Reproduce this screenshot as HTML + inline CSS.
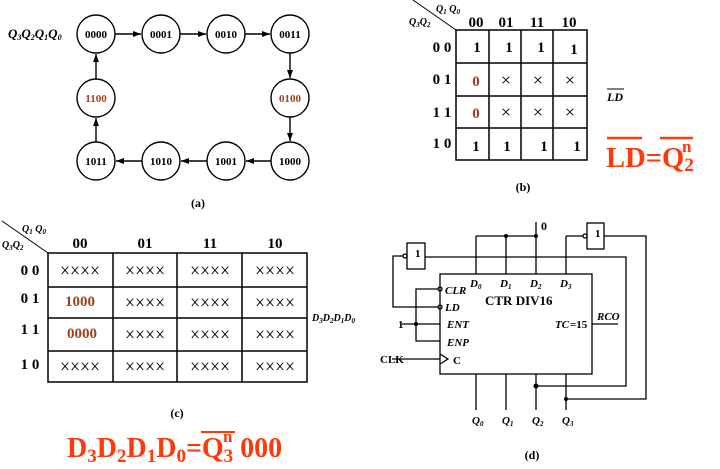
<!DOCTYPE html>
<html><head><meta charset="utf-8"><style>
html,body{margin:0;padding:0;background:#fff;}
svg{display:block;font-family:"Liberation Serif",serif;}
</style></head><body>
<svg width="720" height="469" viewBox="0 0 720 469" xmlns="http://www.w3.org/2000/svg">
<defs><marker id="ar" markerWidth="8" markerHeight="6" refX="8" refY="3" orient="auto" markerUnits="userSpaceOnUse"><path d="M0,0 L8,3 L0,6z" fill="#000"/></marker></defs>
<g stroke="#000" stroke-width="1.4" fill="#fff">
<circle cx="96" cy="34" r="19"/><circle cx="161" cy="34" r="19"/><circle cx="226" cy="34" r="19"/><circle cx="290" cy="34" r="19"/>
<circle cx="290" cy="98" r="19"/><circle cx="96" cy="98" r="19"/>
<circle cx="96" cy="161" r="19"/><circle cx="161" cy="161" r="19"/><circle cx="226" cy="161" r="19"/><circle cx="290" cy="161" r="19"/>
</g>
<g stroke="#000" stroke-width="1.4" marker-end="url(#ar)">
<line x1="115" y1="34" x2="141" y2="34"/><line x1="180" y1="34" x2="206" y2="34"/><line x1="245" y1="34" x2="270" y2="34"/>
<line x1="290" y1="53" x2="290" y2="78"/><line x1="290" y1="117" x2="290" y2="141"/>
<line x1="271" y1="161" x2="246" y2="161"/><line x1="207" y1="161" x2="181" y2="161"/><line x1="142" y1="161" x2="116" y2="161"/>
<line x1="96" y1="142" x2="96" y2="118"/><line x1="96" y1="79" x2="96" y2="54"/>
</g>
<g font-size="11" font-weight="bold" text-anchor="middle">
<text x="96" y="38">0000</text><text x="161" y="38">0001</text><text x="226" y="38">0010</text><text x="290" y="38">0011</text>
<text x="290" y="102" fill="#a0401a">0100</text><text x="96" y="102" fill="#a0401a">1100</text>
<text x="96" y="165">1011</text><text x="161" y="165">1010</text><text x="226" y="165">1001</text><text x="290" y="165">1000</text>
<text x="198" y="207" font-size="12">(a)</text>
</g>
<text x="8" y="38" font-size="13" font-weight="bold" font-style="italic">Q<tspan font-size="8" dy="2">3</tspan><tspan dy="-2">Q</tspan><tspan font-size="8" dy="2">2</tspan><tspan dy="-2">Q</tspan><tspan font-size="8" dy="2">1</tspan><tspan dy="-2">Q</tspan><tspan font-size="8" dy="2">0</tspan></text>

<!-- (b) -->
<g stroke="#000" stroke-width="1.5" fill="none">
<rect x="456" y="30" width="131" height="130"/>
<line x1="489" y1="30" x2="489" y2="160"/><line x1="521" y1="30" x2="521" y2="160"/><line x1="553" y1="30" x2="553" y2="160"/>
<line x1="456" y1="63" x2="587" y2="63"/><line x1="456" y1="96" x2="587" y2="96"/><line x1="456" y1="128" x2="587" y2="128"/>
<line x1="413" y1="0" x2="456" y2="30" stroke-width="1"/>
</g>
<g font-size="15" font-weight="bold" text-anchor="middle">
<text x="476" y="27">00</text><text x="506" y="27">01</text><text x="537" y="27">11</text><text x="569" y="27">10</text>
<text x="442" y="52">0 0</text><text x="442" y="84">0 1</text><text x="442" y="117">1 1</text><text x="442" y="148">1 0</text>
<text x="477" y="52">1</text><text x="509" y="52">1</text><text x="541" y="52">1</text><text x="574" y="54">1</text>
<text x="476" y="86" fill="#a0401a">0</text><text x="476" y="118" fill="#a0401a">0</text>
<text x="476" y="151">1</text><text x="507" y="151">1</text><text x="544" y="151">1</text><text x="577" y="151">1</text>
</g>
<g font-size="18" text-anchor="middle"><text x="506" y="86">×</text><text x="538" y="86">×</text><text x="570" y="86">×</text><text x="506" y="118">×</text><text x="538" y="118">×</text><text x="570" y="118">×</text></g>
<text x="436" y="12" font-size="10" font-weight="bold" font-style="italic">Q<tspan font-size="7" dy="2">1</tspan><tspan dy="-2"> Q</tspan><tspan font-size="7" dy="2">0</tspan></text>
<text x="409" y="25" font-size="10" font-weight="bold" font-style="italic">Q<tspan font-size="7" dy="2">3</tspan><tspan dy="-2">Q</tspan><tspan font-size="7" dy="2">2</tspan></text>
<text x="607" y="101" font-size="12" font-weight="bold" font-style="italic">LD</text><line x1="607" y1="89" x2="624" y2="89" stroke="#000" stroke-width="1"/>
<g fill="#ff3a0a" font-size="28" font-weight="bold"><text x="606" y="167" textLength="88" lengthAdjust="spacingAndGlyphs">LD=Q<tspan font-size="19" dy="4">2</tspan></text><text x="682" y="152" font-size="17">n</text></g>
<g stroke="#ff3a0a" stroke-width="2.5"><line x1="607" y1="138" x2="642" y2="138"/><line x1="660" y1="138" x2="693" y2="138"/></g>
<text x="523" y="191" font-size="12" font-weight="bold" text-anchor="middle">(b)</text>

<!-- (c) -->
<g stroke="#000" stroke-width="1.5" fill="none">
<rect x="48" y="253" width="259" height="129"/>
<line x1="113" y1="253" x2="113" y2="382"/><line x1="177" y1="253" x2="177" y2="382"/><line x1="242" y1="253" x2="242" y2="382"/>
<line x1="48" y1="287" x2="307" y2="287"/><line x1="48" y1="318" x2="307" y2="318"/><line x1="48" y1="351" x2="307" y2="351"/>
<line x1="2" y1="221" x2="48" y2="253" stroke-width="1"/>
</g>
<g font-size="15" font-weight="bold" text-anchor="middle">
<text x="80" y="248">00</text><text x="145" y="248">01</text><text x="210" y="248">11</text><text x="275" y="248">10</text>
<text x="30" y="275">0 0</text><text x="30" y="303">0 1</text><text x="30" y="334">1 1</text><text x="30" y="369">1 0</text>
<text x="80" y="306" fill="#a0401a">1000</text><text x="82" y="338" fill="#a0401a">0000</text>
</g>
<g font-size="20" text-anchor="middle">
<text x="80" y="277" textLength="40" lengthAdjust="spacingAndGlyphs">××××</text><text x="145" y="277" textLength="40" lengthAdjust="spacingAndGlyphs">××××</text><text x="210" y="277" textLength="40" lengthAdjust="spacingAndGlyphs">××××</text><text x="275" y="277" textLength="40" lengthAdjust="spacingAndGlyphs">××××</text>
<text x="145" y="309" textLength="40" lengthAdjust="spacingAndGlyphs">××××</text><text x="210" y="309" textLength="40" lengthAdjust="spacingAndGlyphs">××××</text><text x="275" y="309" textLength="40" lengthAdjust="spacingAndGlyphs">××××</text>
<text x="145" y="341" textLength="40" lengthAdjust="spacingAndGlyphs">××××</text><text x="210" y="341" textLength="40" lengthAdjust="spacingAndGlyphs">××××</text><text x="275" y="341" textLength="40" lengthAdjust="spacingAndGlyphs">××××</text>
<text x="80" y="373" textLength="40" lengthAdjust="spacingAndGlyphs">××××</text><text x="145" y="373" textLength="40" lengthAdjust="spacingAndGlyphs">××××</text><text x="210" y="373" textLength="40" lengthAdjust="spacingAndGlyphs">××××</text><text x="275" y="373" textLength="40" lengthAdjust="spacingAndGlyphs">××××</text>
</g>
<text x="22" y="232" font-size="10" font-weight="bold" font-style="italic">Q<tspan font-size="7" dy="2">1</tspan><tspan dy="-2"> Q</tspan><tspan font-size="7" dy="2">0</tspan></text>
<text x="2" y="248" font-size="10" font-weight="bold" font-style="italic">Q<tspan font-size="7" dy="2">3</tspan><tspan dy="-2">Q</tspan><tspan font-size="7" dy="2">2</tspan></text>
<text x="312" y="321" font-size="10" font-weight="bold" font-style="italic">D<tspan font-size="7" dy="2">3</tspan><tspan dy="-2">D</tspan><tspan font-size="7" dy="2">2</tspan><tspan dy="-2">D</tspan><tspan font-size="7" dy="2">1</tspan><tspan dy="-2">D</tspan><tspan font-size="7" dy="2">0</tspan></text>
<text x="177" y="417" font-size="12" font-weight="bold" text-anchor="middle">(c)</text>
<g fill="#ff3a0a" font-size="28" font-weight="bold"><text x="67" y="457">D<tspan font-size="19" dy="5">3</tspan><tspan dy="-5">D</tspan><tspan font-size="19" dy="5">2</tspan><tspan dy="-5">D</tspan><tspan font-size="19" dy="5">1</tspan><tspan dy="-5">D</tspan><tspan font-size="19" dy="5">0</tspan><tspan dy="-5">=Q</tspan><tspan font-size="19" dy="5">3</tspan><tspan dy="-5"> 000</tspan></text><text x="223" y="442" font-size="17">n</text></g>
<line x1="201" y1="432" x2="235" y2="432" stroke="#ff3a0a" stroke-width="2"/>

<!-- (d) -->
<g stroke="#000" stroke-width="1.3" fill="none">
<rect x="440" y="274" width="152" height="100"/>
<rect x="587" y="223" width="17" height="26"/><circle cx="585" cy="236" r="2"/>
<rect x="407" y="243" width="18" height="26"/><circle cx="405" cy="256" r="2"/>
<line x1="476" y1="236" x2="476" y2="274"/><line x1="506" y1="236" x2="506" y2="274"/><line x1="536" y1="222" x2="536" y2="274"/><line x1="566" y1="236" x2="566" y2="274"/>
<line x1="476" y1="236" x2="536" y2="236"/><line x1="566" y1="236" x2="583" y2="236"/>
<polyline points="604,236 646,236 646,399 566,399"/>
<polyline points="425,257 626,257 626,386 536,386"/>
<polyline points="403,256 393,256 393,307 438,307"/><circle cx="440" cy="307" r="2"/>
<polyline points="438,289 416,289 416,341 440,341"/><circle cx="440" cy="289" r="2"/>
<line x1="402" y1="324" x2="440" y2="324"/>
<line x1="392" y1="359" x2="440" y2="359"/><polyline points="440,354 448,359 440,364"/>
<line x1="592" y1="324" x2="618" y2="324"/>
<line x1="476" y1="374" x2="476" y2="410"/><line x1="506" y1="374" x2="506" y2="410"/><line x1="536" y1="374" x2="536" y2="410"/><line x1="566" y1="374" x2="566" y2="410"/>
</g>
<g fill="#000"><circle cx="506" cy="236" r="2"/><circle cx="536" cy="236" r="2"/><circle cx="416" cy="324" r="2"/><circle cx="536" cy="386" r="2.5"/><circle cx="566" cy="399" r="2"/></g>
<g font-size="11" font-weight="bold">
<text x="595" y="237">1</text><text x="415" y="257">1</text><text x="541" y="230" font-size="12">0</text>
<text x="398" y="328">1</text><text x="380" y="363">CLK</text><text x="453" y="364">C</text>
<text x="485" y="305" font-size="13">CTR DIV16</text>
<text x="555" y="328" font-style="italic">TC</text><text x="570" y="328">=15</text>
</g>
<g font-size="11" font-weight="bold" font-style="italic">
<text x="445" y="294">CLR</text><text x="445" y="311">LD</text><text x="447" y="328">ENT</text><text x="447" y="346">ENP</text>
<text x="597" y="320">RCO</text>
<text x="470" y="287">D<tspan font-size="7" dy="2">0</tspan></text><text x="500" y="287">D<tspan font-size="7" dy="2">1</tspan></text><text x="530" y="287">D<tspan font-size="7" dy="2">2</tspan></text><text x="560" y="287">D<tspan font-size="7" dy="2">3</tspan></text>
<text x="472" y="424">Q<tspan font-size="7" dy="2">0</tspan></text><text x="502" y="424">Q<tspan font-size="7" dy="2">1</tspan></text><text x="532" y="424">Q<tspan font-size="7" dy="2">2</tspan></text><text x="562" y="424">Q<tspan font-size="7" dy="2">3</tspan></text>
</g>
<text x="532" y="459" font-size="12" font-weight="bold" text-anchor="middle">(d)</text>
</svg>
</body></html>
